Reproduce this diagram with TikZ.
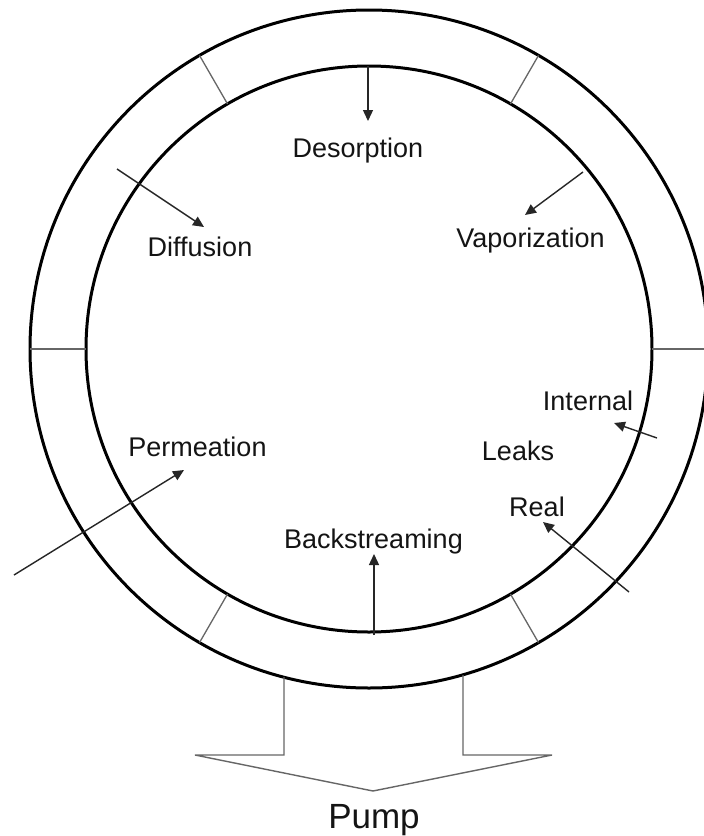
\documentclass[tikz,border=0pt]{standalone}
\usepackage{fontspec}
\setmainfont{Liberation Sans}
\usetikzlibrary{calc,arrows.meta}
\begin{document}
\begin{tikzpicture}[x=1pt,y=-1pt,
  ring/.style={line width=3pt,black},
  tickline/.style={line width=1.3pt,black!60},
  flow/.style={line width=1.4pt,black!85,-{Triangle[length=11pt,width=10pt]}},
  pumpline/.style={line width=1.4pt,black!60,line join=miter},
  lbl/.style={anchor=base,inner sep=0pt,font=\fontsize{27}{30}\selectfont,text=black!92},
  pumplbl/.style={anchor=base,inner sep=0pt,font=\fontsize{35}{40}\selectfont,text=black!92}]
\useasboundingbox (0,0) rectangle (704,836);
\fill[white] (0,0) rectangle (704,836);
\coordinate (c) at (369,349);
% chamber walls
\draw[ring] (c) circle[radius=339pt];
\draw[ring] (c) circle[radius=283pt];
\foreach \a in {0,60,...,300}
  \draw[tickline] ($(c)+(\a:283pt)$) -- ($(c)+(\a:339pt)$);
% labels
\node[lbl] (desorption) at (358,157) {Desorption};
\node[lbl] (diffusion) at (200,256) {Diffusion};
\node[lbl] (vaporization) at (530.5,247) {Vaporization};
\node[lbl] (internal) at (588,410) {Internal};
\node[lbl] (leaks) at (518,460) {Leaks};
\node[lbl] (real) at (537,516) {Real};
\node[lbl] (permeation) at (197.5,456) {Permeation};
\node[lbl] (backstreaming) at (373.5,548) {Backstreaming};
\node[pumplbl] (pump) at (374,828) {Pump};
% arrow end points
\coordinate (desA) at (368,66);   \coordinate (desB) at (368,121);
\coordinate (difA) at (117,169);  \coordinate (difB) at (204,227);
\coordinate (vapA) at (583,172);  \coordinate (vapB) at (525,215);
\coordinate (intA) at (657,438);  \coordinate (intB) at (614,423);
\coordinate (realA) at (629,592); \coordinate (realB) at (543,522);
\coordinate (perA) at (14,575);   \coordinate (perB) at (184,470);
\coordinate (bsA) at (374,635);   \coordinate (bsB) at (374,554);
\draw[flow] (desA) -- (desB);
\draw[flow] (difA) -- (difB);
\draw[flow] (vapA) -- (vapB);
\draw[flow] (intA) -- (intB);
\draw[flow] (realA) -- (realB);
\draw[flow] (perA) -- (perB);
\draw[flow] (bsA) -- (bsB);
% pump arrow
\coordinate (pL) at (284,677); \coordinate (pR) at (463,675);
\coordinate (pLc) at (284,755); \coordinate (pLw) at (195,755);
\coordinate (pTip) at (373,791);
\coordinate (pRw) at (552,755); \coordinate (pRc) at (463,755);
\draw[pumpline] (pL) -- (pLc) -- (pLw) -- (pTip) -- (pRw) -- (pRc) -- (pR);
\end{tikzpicture}
\end{document}
